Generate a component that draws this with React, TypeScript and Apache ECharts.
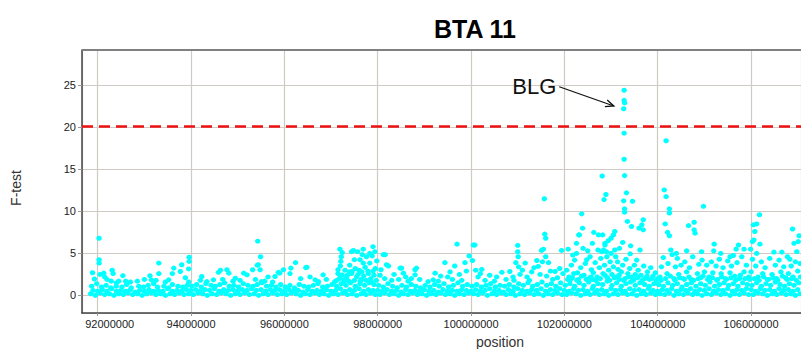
import { useEffect, useRef } from "react";
import * as echarts from "echarts";

const TITLE = "BTA 11";
const X_NAME = "position";
const Y_NAME = "F-test";
const THRESHOLD = 20.07;
const ANNOTATION = "BLG";
const ARROW_FROM = [101.89, 24.82];
const ARROW_TO = [103.06, 22.53];

// [position (Mb), F-test]
const seg092 = [
  [91.85,0.2],[91.95,0.0],[92.05,0.3],[92.15,0.1],[92.25,0.2],[92.35,0.0],[92.45,0.2],[92.55,0.1],[92.65,0.3],[92.75,0.1],[92.85,0.2],[92.95,0.0],[93.05,0.2],[93.15,0.3],[93.25,0.1],[93.35,0.2],[93.45,0.0],[93.55,0.2],[93.65,0.1],[93.75,0.3],[93.85,0.1],[93.95,0.2],
  [91.9,0.6],[92.0,0.5],[92.1,0.7],[92.2,0.5],[92.3,0.8],[92.4,0.5],[92.5,0.6],[92.6,0.5],[92.7,0.7],[92.8,0.4],[92.9,0.6],[93.0,0.5],[93.1,0.7],[93.2,0.5],[93.3,0.6],[93.4,0.5],[93.5,0.8],[93.6,0.5],[93.7,0.6],[93.8,0.5],[93.9,0.7],
  [91.87,1.1],[91.98,1.4],[92.08,1.0],[92.18,1.2],[92.28,0.9],[92.4,1.1],[92.52,1.0],[92.62,1.3],[92.72,0.9],[92.88,1.1],[92.98,1.0],[93.08,1.2],[93.2,1.4],[93.28,1.0],[93.42,1.1],[93.52,0.9],[93.6,1.3],[93.72,1.1],[93.82,1.0],[93.92,1.2],
  [91.89,2.7],[91.93,1.95],[92.03,6.8],[92.03,4.25],[92.03,3.85],[92.05,2.5],[92.13,2.65],[92.15,2.2],[92.31,3.0],[92.33,2.6],[92.29,1.7],[92.2,1.9],[92.54,2.35],[92.7,1.6],[92.45,1.7],[92.85,1.7],[93.0,1.9],[93.12,2.35],[93.15,1.85],[93.31,3.85],[93.31,2.6],[93.25,1.8],[93.45,1.6],[93.52,1.85],[93.6,2.6],[93.63,3.25],[93.77,2.85],[93.8,3.65],[93.96,4.55],[93.96,4.05],[93.95,3.15],[93.95,1.6],[93.88,2.1],[92.6,1.7],[92.4,1.5]
];

const seg094 = [
  [94.05,0.1],[94.15,0.3],[94.25,0.2],[94.35,0.0],[94.45,0.2],[94.55,0.1],[94.65,0.3],[94.75,0.2],[94.85,0.0],[94.95,0.2],[95.05,0.1],[95.15,0.3],[95.25,0.1],[95.35,0.2],[95.45,0.0],[95.55,0.2],[95.65,0.1],[95.75,0.3],[95.85,0.1],[95.95,0.2],
  [94.0,0.6],[94.1,0.7],[94.2,0.5],[94.3,0.7],[94.4,0.6],[94.5,0.8],[94.6,0.5],[94.7,0.7],[94.8,0.6],[94.9,0.7],[95.0,0.5],[95.1,0.7],[95.2,0.6],[95.3,0.8],[95.4,0.6],[95.5,0.7],[95.6,0.5],[95.7,0.7],[95.8,0.6],[95.9,0.7],
  [94.02,1.1],[94.12,1.3],[94.22,1.0],[94.32,1.4],[94.43,1.2],[94.52,1.1],[94.62,1.3],[94.72,1.5],[94.82,1.1],[94.92,1.2],[95.02,1.0],[95.12,1.4],[95.22,1.2],[95.33,1.1],[95.42,1.3],[95.52,1.5],[95.62,1.1],[95.72,1.2],[95.82,1.0],[95.92,1.3],
  [94.2,1.8],[94.23,2.25],[94.34,1.65],[94.48,1.85],[94.59,2.75],[94.63,3.0],[94.68,1.9],[94.77,3.05],[94.81,2.65],[94.9,1.7],[94.95,2.05],[95.05,1.8],[95.13,2.65],[95.2,2.45],[95.32,3.05],[95.43,6.45],[95.49,4.6],[95.42,3.6],[95.48,3.05],[95.44,3.65],[95.51,1.65],[95.38,1.9],[95.58,1.7],[95.65,2.2],[95.8,2.25],[95.9,2.65],[95.75,1.6],[95.87,2.75],[95.98,3.05]
];

const seg096 = [
  [96.05,0.1],[96.15,0.3],[96.25,0.2],[96.35,0.0],[96.45,0.2],[96.55,0.1],[96.65,0.3],[96.75,0.1],[96.85,0.2],[96.95,0.0],[97.05,0.2],[97.15,0.1],[97.25,0.3],[97.35,0.1],[97.45,0.2],[97.55,0.0],[97.65,0.2],[97.75,0.1],[97.85,0.3],[97.95,0.1],
  [96.0,0.5],[96.1,0.7],[96.2,0.5],[96.3,0.6],[96.4,0.4],[96.5,0.7],[96.6,0.5],[96.7,0.6],[96.8,0.5],[96.9,0.7],[97.0,0.5],[97.1,0.6],[97.2,0.8],[97.3,0.5],[97.4,0.7],[97.5,0.6],[97.6,0.8],[97.7,0.5],[97.8,0.7],[97.9,0.6],
  [96.02,1.0],[96.12,1.2],[96.22,0.9],[96.32,1.3],[96.42,1.1],[96.52,1.0],[96.62,1.2],[96.72,1.4],[96.82,1.0],[96.92,1.1],[97.02,1.3],[97.12,1.1],[97.22,1.4],[97.32,1.2],[97.42,1.5],[97.52,1.1],[97.62,1.4],[97.72,1.2],[97.82,1.5],[97.92,1.3],
  [97.12,1.8],[97.2,2.3],[97.27,1.6],[97.33,2.1],[97.38,1.7],[97.44,2.6],[97.5,1.8],[97.52,3.2],[97.58,2.5],[97.63,1.7],[97.7,2.3],[97.75,1.8],[97.79,2.9],[97.86,1.6],[97.92,2.4],[97.97,1.8],[97.15,2.6],[97.4,2.8],[97.66,2.8],[97.9,2.9],
  [96.14,3.25],[96.24,3.9],[96.12,2.6],[96.46,3.3],[96.48,3.35],[96.66,1.85],[96.83,2.45],[96.73,1.65],[97.08,1.65],[96.35,2.0],[96.55,2.2],[96.9,1.9],[97.19,5.5],[97.24,5.1],[97.21,4.05],[97.15,3.05],[97.24,2.45],[97.2,3.5],[97.22,4.6],[97.18,2.0],[97.28,1.9],[97.3,3.0],[97.48,5.35],[97.57,5.2],[97.69,5.5],[97.76,4.6],[97.9,5.8],[97.94,5.2],[97.88,4.7],[97.5,4.25],[97.62,4.25],[97.69,3.85],[97.45,2.85],[97.73,3.35],[97.83,3.85],[97.35,2.4],[97.4,3.6],[97.55,2.2],[97.6,3.0],[97.65,1.9],[97.8,2.6],[97.85,2.0],[97.95,3.2],[97.98,4.1],[97.44,5.2],[97.67,4.85],[97.83,5.0]
];

const seg098 = [
  [98.05,0.1],[98.15,0.3],[98.25,0.1],[98.35,0.2],[98.45,0.0],[98.55,0.2],[98.65,0.1],[98.75,0.3],[98.85,0.1],[98.95,0.2],[99.05,0.0],[99.15,0.2],[99.25,0.1],[99.35,0.3],[99.45,0.1],[99.55,0.2],[99.65,0.0],[99.75,0.2],[99.85,0.1],[99.95,0.3],
  [98.0,0.6],[98.1,0.5],[98.2,0.7],[98.3,0.5],[98.4,0.6],[98.5,0.4],[98.6,0.7],[98.7,0.5],[98.8,0.6],[98.9,0.5],[99.0,0.7],[99.1,0.5],[99.2,0.6],[99.3,0.4],[99.4,0.7],[99.5,0.5],[99.6,0.6],[99.7,0.5],[99.8,0.7],[99.9,0.6],
  [98.02,1.2],[98.12,1.0],[98.22,1.4],[98.32,1.1],[98.42,0.9],[98.52,1.2],[98.62,1.0],[98.72,1.3],[98.82,1.1],[98.92,0.9],[99.02,1.2],[99.12,1.0],[99.22,1.3],[99.32,1.1],[99.42,1.4],[99.52,1.0],[99.62,1.2],[99.72,1.5],[99.82,1.1],[99.92,1.3],
  [98.12,4.85],[98.19,3.65],[98.23,3.5],[98.07,3.05],[98.16,4.85],[98.05,2.4],[98.15,2.0],[98.3,1.8],[98.35,2.5],[98.48,3.25],[98.51,3.25],[98.55,2.65],[98.45,1.9],[98.65,1.7],[98.83,3.25],[98.8,3.05],[98.8,2.45],[98.9,1.9],[99.08,1.65],[99.19,1.85],[99.23,2.65],[99.3,1.7],[99.44,3.9],[99.65,3.5],[99.7,6.1],[99.87,3.9],[99.96,4.7],[99.5,2.2],[99.55,2.8],[99.6,1.9],[99.75,2.5],[99.8,1.8],[99.9,2.9],[99.35,2.3],[98.6,2.2],[98.72,2.0]
];

const seg100 = [
  [100.05,0.2],[100.15,0.1],[100.25,0.3],[100.35,0.0],[100.45,0.2],[100.55,0.1],[100.65,0.3],[100.75,0.1],[100.85,0.2],[100.95,0.0],[101.05,0.2],[101.15,0.1],[101.25,0.3],[101.35,0.1],[101.45,0.2],[101.55,0.0],[101.65,0.2],[101.75,0.1],[101.85,0.3],[101.95,0.1],
  [100.0,0.5],[100.1,0.7],[100.2,0.5],[100.3,0.6],[100.4,0.8],[100.5,0.5],[100.6,0.6],[100.7,0.4],[100.8,0.7],[100.9,0.5],[101.0,0.8],[101.1,0.6],[101.2,0.5],[101.3,0.7],[101.4,0.6],[101.5,0.8],[101.6,0.5],[101.7,0.7],[101.8,0.6],[101.9,0.8],
  [100.02,1.1],[100.12,1.3],[100.22,1.0],[100.32,1.2],[100.42,1.4],[100.52,1.0],[100.62,1.2],[100.72,1.1],[100.82,1.3],[100.92,1.0],[101.02,1.4],[101.12,1.2],[101.22,1.5],[101.32,1.1],[101.42,1.3],[101.52,1.6],[101.62,1.2],[101.72,1.4],[101.82,1.1],[101.92,1.5],
  [100.05,6.0],[100.08,6.0],[100.03,4.15],[100.23,3.1],[100.66,2.75],[100.83,2.85],[100.96,3.9],[101.0,5.95],[101.0,5.2],[101.01,4.6],[101.16,3.85],[101.41,4.15],[101.44,3.45],[101.51,5.35],[101.55,5.5],[101.58,7.3],[101.6,6.8],[101.57,11.5],[101.66,3.9],[101.8,2.85],[101.94,5.35],[100.15,2.2],[100.3,1.8],[100.4,2.4],[100.5,1.7],[100.55,2.2],[100.75,1.9],[100.9,2.2],[101.05,2.5],[101.1,3.0],[101.2,2.2],[101.25,1.8],[101.3,2.8],[101.35,3.3],[101.48,2.5],[101.53,4.0],[101.62,2.3],[101.7,2.9],[101.75,1.9],[101.85,2.1],[101.9,3.2],[101.97,2.6],[100.1,3.0],[100.2,2.6],[100.92,1.8],[101.02,3.4],[101.6,4.6]
];

const seg102 = [
  [102.05,0.1],[102.15,0.3],[102.25,0.2],[102.35,0.0],[102.45,0.2],[102.55,0.1],[102.65,0.3],[102.75,0.1],[102.85,0.2],[102.95,0.0],[103.05,0.2],[103.15,0.1],[103.25,0.3],[103.35,0.1],[103.45,0.2],[103.55,0.0],[103.65,0.2],[103.75,0.1],[103.85,0.3],[103.95,0.1],
  [102.0,0.6],[102.1,0.5],[102.2,0.8],[102.3,0.6],[102.4,0.7],[102.5,0.5],[102.6,0.8],[102.7,0.6],[102.8,0.7],[102.9,0.5],[103.0,0.8],[103.1,0.6],[103.2,0.7],[103.3,0.5],[103.4,0.8],[103.5,0.6],[103.6,0.7],[103.7,0.5],[103.8,0.8],[103.9,0.6],
  [102.02,1.2],[102.12,1.4],[102.22,1.1],[102.32,1.5],[102.42,1.2],[102.52,1.6],[102.62,1.1],[102.72,1.4],[102.82,1.3],[102.92,1.7],[103.02,1.2],[103.12,1.5],[103.22,1.1],[103.32,1.4],[103.42,1.6],[103.52,1.2],[103.62,1.5],[103.72,1.3],[103.82,1.1],[103.92,1.4],
  [102.07,1.9],[102.17,2.1],[102.27,1.8],[102.37,2.3],[102.47,1.9],[102.57,2.2],[102.67,1.8],[102.77,2.0],[102.87,2.4],[102.97,1.8],[103.07,2.1],[103.17,2.4],[103.27,1.8],[103.37,2.2],[103.47,1.9],[103.57,2.1],[103.67,1.8],[103.77,2.3],[103.87,2.0],[103.97,1.8],
  [102.08,5.5],[102.26,6.2],[102.31,7.2],[102.39,8.0],[102.37,9.7],[102.32,7.2],[102.63,7.5],[102.73,7.2],[102.6,6.2],[102.87,6.0],[102.72,5.4],[102.8,5.2],[102.26,5.0],[102.48,4.25],[102.58,3.05],[102.91,4.6],[102.81,14.2],[102.89,12.0],[102.85,11.4],[102.82,7.2],[102.84,5.4],[102.9,5.2],[102.94,6.5],[103.0,6.8],[103.05,7.2],[103.08,7.6],[103.08,5.4],[102.87,6.2],
  [103.28,24.4],[103.28,23.2],[103.29,22.9],[103.27,22.2],[103.28,19.3],[103.28,16.2],[103.29,14.25],[103.33,12.2],[103.27,11.25],[103.29,10.3],[103.29,9.9],[103.35,8.8],[103.44,8.2],[103.46,11.2],[103.69,9.0],[103.66,8.4],[103.6,8.0],[103.69,7.8],[103.62,5.4],[103.42,5.9],[103.41,4.95],
  [102.05,3.0],[102.1,2.2],[102.15,3.6],[102.2,2.6],[102.22,4.2],[102.3,1.9],[102.35,3.3],[102.42,2.4],[102.45,3.8],[102.52,2.0],[102.55,4.6],[102.62,2.7],[102.66,3.9],[102.7,2.2],[102.75,3.3],[102.78,4.4],[102.83,2.6],[102.86,3.6],[102.92,2.1],[102.95,3.0],[102.98,4.0],[103.02,2.5],[103.05,3.4],[103.1,4.6],[103.12,2.2],[103.15,3.1],[103.18,1.9],[103.22,2.8],[103.25,3.6],[103.3,2.0],[103.32,4.3],[103.36,2.6],[103.4,3.2],[103.45,2.2],[103.5,3.6],[103.52,2.5],[103.55,4.2],[103.58,3.0],[103.64,2.4],[103.7,3.5],[103.72,2.0],[103.78,2.8],[103.82,1.9],[103.85,3.3],[103.9,2.3],[103.95,2.7],[102.4,5.6],[102.18,4.8],[102.5,5.3],[103.0,5.0],[103.18,5.6],[103.25,6.3],[103.14,4.0],[102.12,1.8],[102.28,2.7],[102.6,1.9],[103.48,1.8]
];

const seg104 = [
  [104.05,0.2],[104.15,0.1],[104.25,0.3],[104.35,0.0],[104.45,0.2],[104.55,0.1],[104.65,0.3],[104.75,0.1],[104.85,0.2],[104.95,0.0],[105.05,0.2],[105.15,0.1],[105.25,0.3],[105.35,0.1],[105.45,0.2],[105.55,0.0],[105.65,0.2],[105.75,0.1],[105.85,0.3],[105.95,0.1],
  [104.0,0.5],[104.1,0.7],[104.2,0.6],[104.3,0.8],[104.4,0.5],[104.5,0.7],[104.6,0.6],[104.7,0.8],[104.8,0.5],[104.9,0.7],[105.0,0.6],[105.1,0.8],[105.2,0.5],[105.3,0.7],[105.4,0.6],[105.5,0.8],[105.6,0.5],[105.7,0.7],[105.8,0.6],[105.9,0.8],
  [104.02,1.3],[104.12,1.1],[104.22,1.5],[104.32,1.2],[104.42,1.4],[104.52,1.0],[104.62,1.3],[104.72,1.5],[104.82,1.1],[104.92,1.4],[105.02,1.2],[105.12,1.6],[105.22,1.1],[105.32,1.3],[105.42,1.5],[105.52,1.2],[105.62,1.4],[105.72,1.1],[105.82,1.5],[105.92,1.3],
  [104.07,1.8],[104.17,2.0],[104.27,2.3],[104.37,1.8],[104.47,2.1],[104.57,1.9],[104.67,2.2],[104.77,1.8],[104.87,2.0],[104.97,2.3],[105.07,1.9],[105.17,2.1],[105.27,1.8],[105.37,2.2],[105.47,1.9],[105.57,2.1],[105.67,1.8],[105.77,2.4],[105.87,2.0],[105.97,1.9],
  [104.14,12.55],[104.18,11.75],[104.18,18.4],[104.25,10.3],[104.25,9.8],[104.16,8.5],[104.21,7.5],[104.25,7.1],[104.28,5.4],[104.31,4.85],[104.66,8.3],[104.78,8.7],[104.78,7.8],[104.8,7.4],[104.98,10.6],[105.21,6.1],[105.2,5.3],[104.94,5.2],[105.73,6.0],[105.68,5.5],[105.62,4.75],
  [104.05,2.2],[104.08,3.4],[104.12,4.5],[104.2,2.6],[104.22,3.8],[104.35,2.0],[104.38,3.4],[104.42,4.4],[104.45,2.5],[104.5,3.6],[104.55,2.0],[104.58,4.0],[104.62,2.8],[104.68,3.3],[104.72,1.9],[104.75,4.6],[104.85,2.6],[104.88,3.7],[104.92,2.1],[104.95,4.2],[105.0,2.8],[105.05,3.6],[105.1,2.2],[105.15,4.0],[105.18,2.7],[105.25,3.5],[105.28,1.9],[105.32,4.3],[105.36,2.6],[105.4,3.3],[105.45,2.0],[105.5,4.1],[105.55,2.7],[105.58,3.5],[105.65,2.3],[105.7,3.9],[105.75,2.0],[105.8,4.6],[105.85,2.8],[105.9,3.6],[105.95,2.2],[104.0,2.0],[104.4,5.0],[104.62,5.3],[105.35,5.0],[105.85,5.5],[105.55,4.6]
];

const seg106 = [
  [106.05,0.1],[106.15,0.3],[106.25,0.2],[106.35,0.0],[106.45,0.2],[106.55,0.1],[106.65,0.3],[106.75,0.1],[106.85,0.2],[106.95,0.0],[107.05,0.2],
  [106.0,0.7],[106.1,0.5],[106.2,0.8],[106.3,0.6],[106.4,0.7],[106.5,0.5],[106.6,0.8],[106.7,0.6],[106.8,0.7],[106.9,0.5],[107.0,0.7],
  [106.02,1.2],[106.12,1.5],[106.22,1.1],[106.32,1.4],[106.42,1.2],[106.52,1.6],[106.62,1.3],[106.72,1.1],[106.82,1.4],[106.92,1.2],[107.02,1.5],
  [106.07,2.0],[106.17,1.8],[106.27,2.2],[106.37,1.9],[106.47,2.1],[106.57,1.8],[106.67,2.3],[106.77,1.9],[106.87,2.0],[106.97,1.8],[107.06,2.2],
  [106.18,9.6],[106.12,8.5],[106.05,8.4],[106.08,7.6],[106.06,6.6],[106.03,6.4],[106.19,6.1],[105.99,5.5],[106.03,4.3],[106.89,7.9],[107.03,7.1],[107.01,6.4],[106.49,5.15],[106.66,5.15],[106.83,4.3],
  [106.0,2.8],[106.1,3.5],[106.15,2.2],[106.22,4.0],[106.25,2.6],[106.3,3.3],[106.35,1.9],[106.4,4.4],[106.45,2.5],[106.52,3.6],[106.55,2.0],[106.6,4.2],[106.64,2.8],[106.7,3.4],[106.74,2.1],[106.78,4.6],[106.8,2.6],[106.86,3.5],[106.9,2.2],[106.95,4.0],[107.0,2.9],[107.05,3.8],[106.98,5.2],[106.12,5.0],[106.92,6.2]
];

const FONT = '"Liberation Sans", Arial, sans-serif';

export default function App() {
  const ref = useRef<HTMLDivElement>(null);
  useEffect(() => {
    document.body.style.margin = "0";
    if (!ref.current) return;
    const chart = echarts.init(ref.current, null, { renderer: "svg" });
    const all = [...seg092, ...seg094, ...seg096, ...seg098, ...seg100, ...seg102, ...seg104, ...seg106];
    const data = all.map(([p, f]) => [Math.round(p * 1e6), f]);
    const option: any = {
      animation: false,
      backgroundColor: "#ffffff",
      title: {
        text: TITLE,
        left: 470,
        top: 11,
        textAlign: "center",
        textStyle: { fontFamily: FONT, fontSize: 25, fontWeight: "bold", color: "#000" },
      },
      grid: { left: 82, top: 50, right: 0, bottom: 36, show: false },
      xAxis: {
        type: "value",
        min: 91664000,
        max: 107070000,
        splitNumber: 8,
        minInterval: 2000000,
        maxInterval: 2000000,
        axisLine: { show: true, onZero: false, lineStyle: { color: "#444", width: 1.5 } },
        axisTick: { show: true, length: 3, lineStyle: { color: "#999" } },
        axisLabel: {
          showMinLabel: false,
          showMaxLabel: false,
          margin: 5,
          fontFamily: FONT,
          fontSize: 11,
          color: "#222",
          formatter: (v: number) => (v === 92000000 ? "{f|" + String(v) + "}" : String(v)),
          rich: { f: { padding: [0, 0, 0, 24], fontFamily: FONT, fontSize: 11, color: "#222" } },
        },
        splitLine: { show: true, lineStyle: { color: "#cfcbc4", width: 1.2 } },
      },
      yAxis: {
        type: "value",
        min: -2.09,
        max: 29.19,
        splitNumber: 6,
        minInterval: 5,
        maxInterval: 5,
        axisLine: { show: true, onZero: false, lineStyle: { color: "#444", width: 1.5 } },
        axisTick: { show: true, length: 4, lineStyle: { color: "#999" } },
        axisLabel: {
          showMinLabel: false,
          showMaxLabel: false,
          margin: 6,
          fontFamily: FONT,
          fontSize: 11,
          color: "#222",
          formatter: (v: number) => String(v),
        },
        splitLine: { show: true, lineStyle: { color: "#cfcbc4", width: 1.2 } },
      },
      series: [
        {
          type: "scatter",
          data,
          symbol: "circle",
          symbolSize: [5.5, 5],
          itemStyle: { color: "#00ffff", opacity: 1 },
          silent: true,
          z: 3,
          markLine: {
            silent: true,
            symbol: ["none", "none"],
            label: { show: false },
            lineStyle: { color: "#ee1111", type: [11, 6], width: 2.5 },
            data: [{ yAxis: THRESHOLD }],
            z: 4,
          },
        },
      ],
      graphic: [
        { type: "line", shape: { x1: 82, y1: 50, x2: 801, y2: 50 }, style: { stroke: "#808080", lineWidth: 2 }, z: 10 },
        {
          type: "text",
          x: 16,
          y: 188,
          rotation: Math.PI / 2,
          style: { text: Y_NAME, font: "14px " + FONT, fill: "#333", textAlign: "center", textVerticalAlign: "middle", align: "center", verticalAlign: "middle" },
        },
        {
          type: "text",
          x: 500,
          y: 342,
          style: { text: X_NAME, font: "14px " + FONT, fill: "#333", textAlign: "center", textVerticalAlign: "middle", align: "center", verticalAlign: "middle" },
        },
      ],
    };
    chart.setOption(option);
    const p0 = chart.convertToPixel({ gridIndex: 0 }, [ARROW_FROM[0] * 1e6, ARROW_FROM[1]]) as number[];
    const p1 = chart.convertToPixel({ gridIndex: 0 }, [ARROW_TO[0] * 1e6, ARROW_TO[1]]) as number[];
    const dx = p1[0] - p0[0];
    const dy = p1[1] - p0[1];
    const len = Math.sqrt(dx * dx + dy * dy);
    const ux = dx / len;
    const uy = dy / len;
    const hl = 9;
    const ang = 0.4;
    const cos = Math.cos(ang);
    const sin = Math.sin(ang);
    const h1 = [p1[0] - hl * (ux * cos - uy * sin), p1[1] - hl * (uy * cos + ux * sin)];
    const h2 = [p1[0] - hl * (ux * cos + uy * sin), p1[1] - hl * (uy * cos - ux * sin)];
    chart.setOption({
      graphic: [
        ...option.graphic,
        { type: "line", shape: { x1: p0[0], y1: p0[1], x2: p1[0], y2: p1[1] }, style: { stroke: "#111", lineWidth: 1.3 }, z: 10 },
        { type: "polyline", shape: { points: [h1, p1, h2] }, style: { stroke: "#111", lineWidth: 1.3, fill: null }, z: 10 },
        {
          type: "text",
          x: p0[0] - 3,
          y: p0[1],
          z: 10,
          style: { text: ANNOTATION, font: "22px " + FONT, fill: "#111", textAlign: "right", textVerticalAlign: "middle", align: "right", verticalAlign: "middle" },
        },
      ],
    });
    return () => chart.dispose();
  }, []);
  return <div ref={ref} style={{ width: 801, height: 349 }} />;
}
